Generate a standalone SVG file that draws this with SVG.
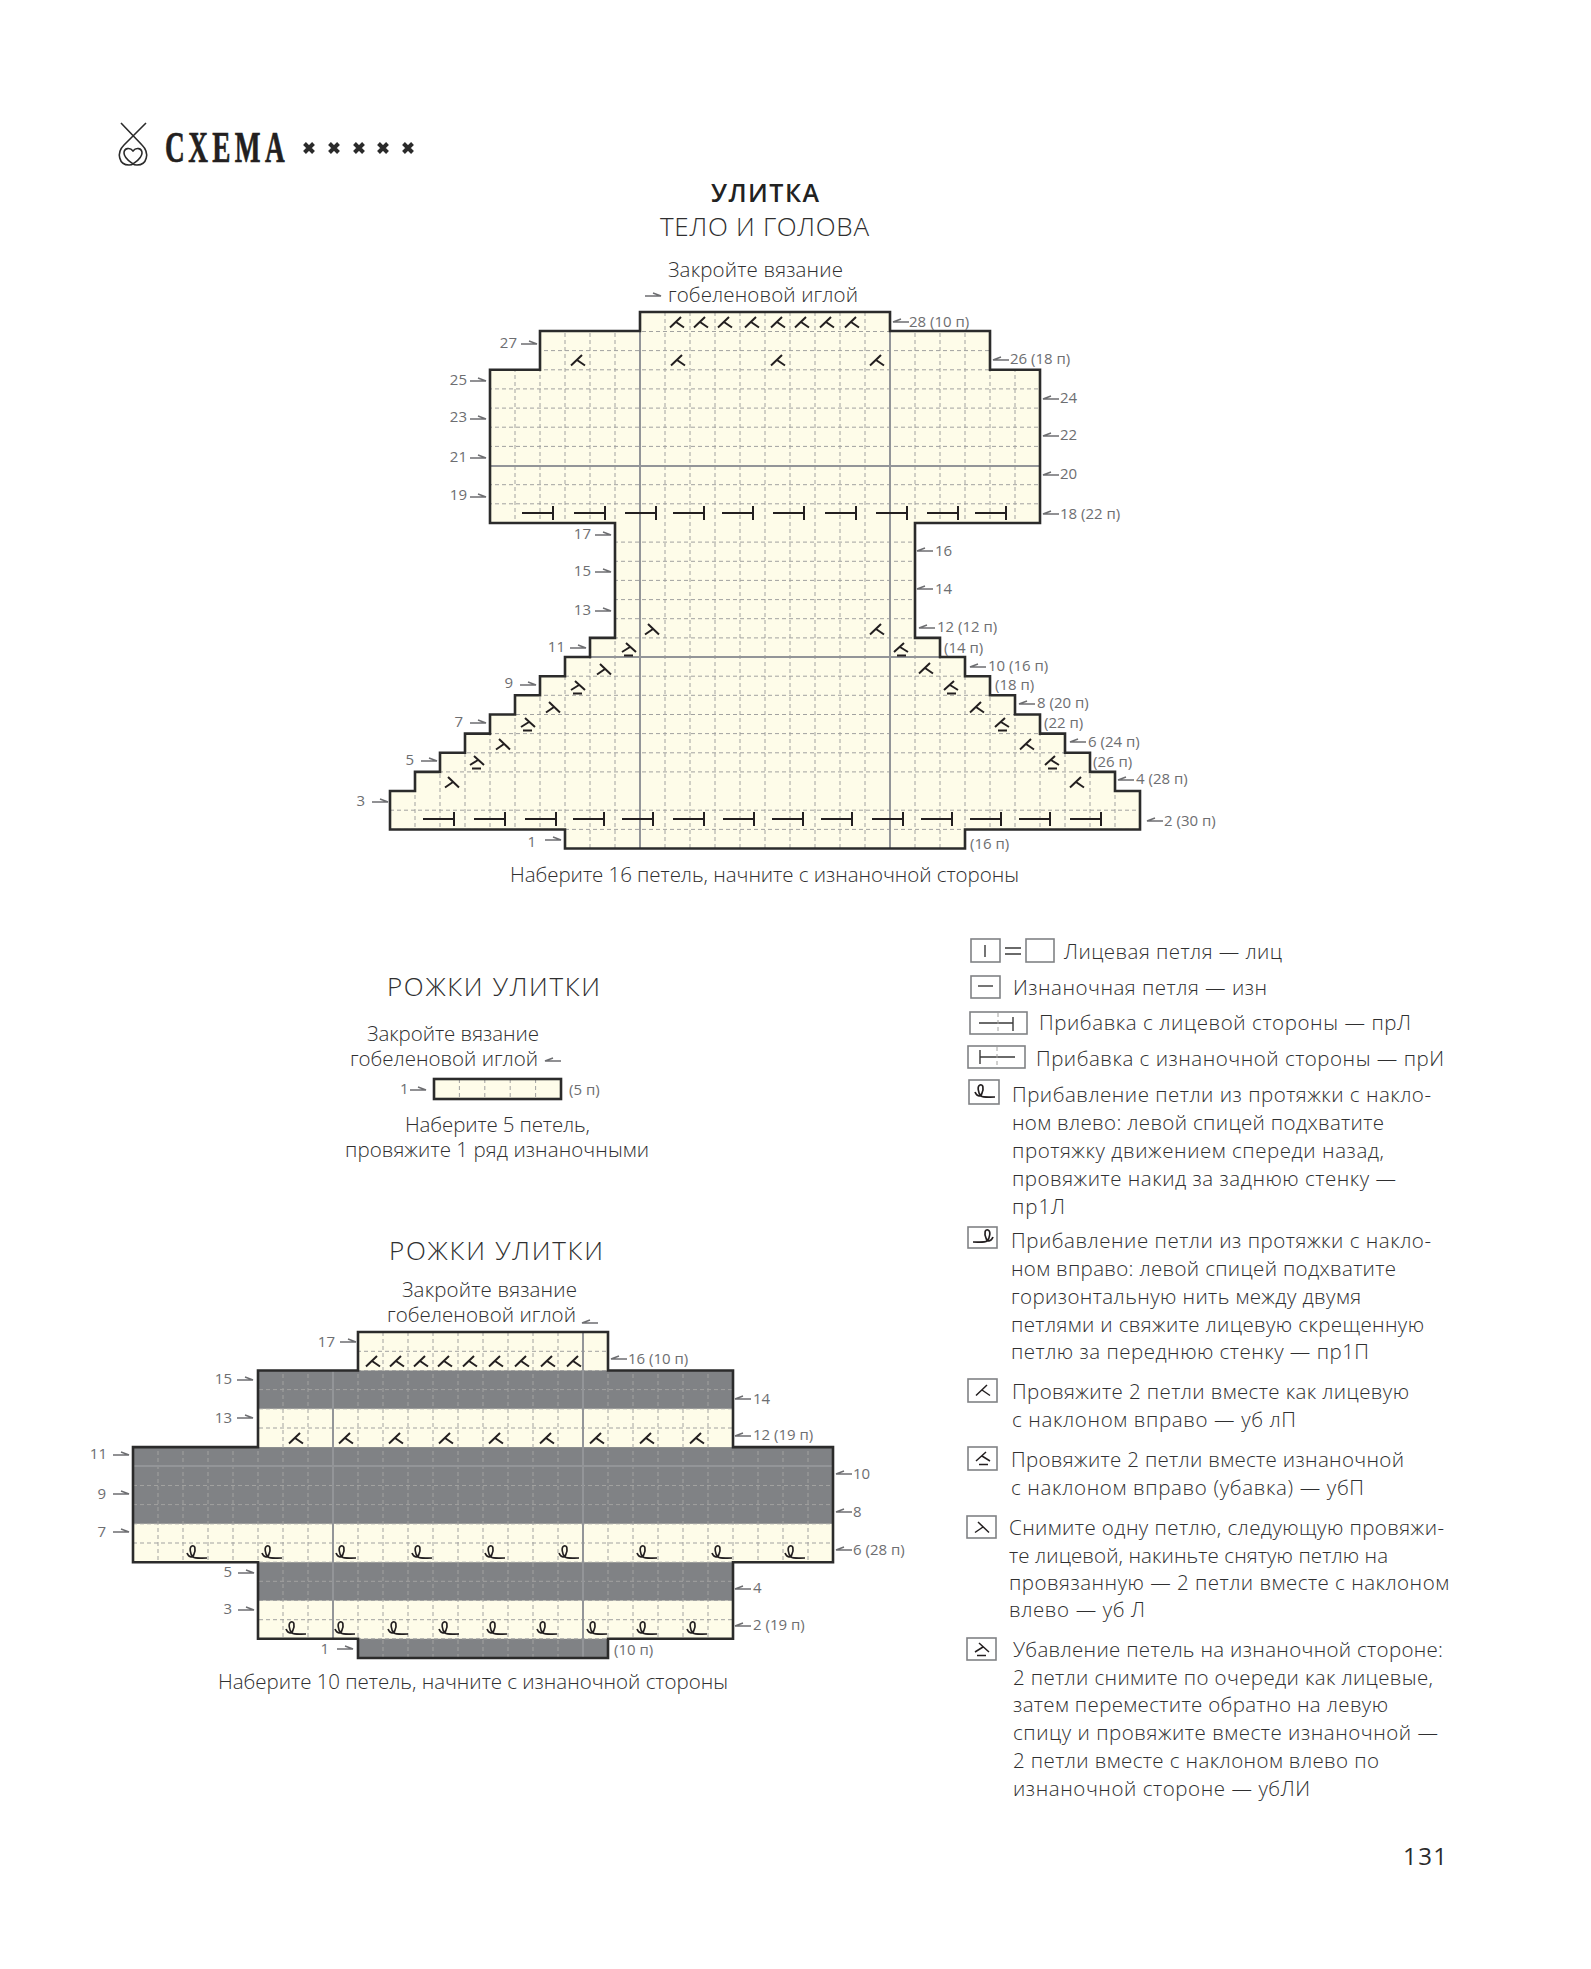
<svg xmlns="http://www.w3.org/2000/svg" width="1591" height="1969" viewBox="0 0 1591 1969">
<style>
text{font-family:"Open Sans","Liberation Sans",sans-serif;font-weight:300;fill:#2f2f30}
.t{font-size:20.5px}
.h{font-size:26px}
.b{font-size:25px;font-weight:600;fill:#222}
.n{font-size:15px;font-weight:400;fill:#6d6e71}
.cream{fill:#fefce9}
.dk{fill:#808285}
.grid{fill:none;stroke:#a2a2a0;stroke-width:1;stroke-dasharray:4 3}
.solid{fill:none;stroke:#939598;stroke-width:2}
.out{fill:none;stroke:#2b2b2b;stroke-width:2.6}
.sym{fill:none;stroke:#231f20}
use{stroke-width:2}
#legend use{stroke-width:1.5}
.arr{fill:none;stroke:#6d6e71;stroke-width:1.4}
.box{fill:#fff;stroke:#808285;stroke-width:1.6}
.lg{fill:none;stroke:#3a3a3a;stroke-width:1.4}
</style>
<defs>
<path id="k2" class="sym" d="M-7 5.5L4-5M-1 0L7 5.5"/>
<path id="s2" class="sym" d="M7 5.5L-4-5M1 0L-7 5.5"/>
<path id="pk" class="sym" d="M-7 3L3-6M-1-2L7 3M-4 6.5H5"/>
<path id="ps" class="sym" d="M7 3L-3-6M1-2L-7 3M4 6.5H-5"/>
<path id="inc" class="sym" d="M-31 0H0M0-7V7"/>
<path id="lp" class="sym" stroke-width="1.7" d="M-10 1C-8 6-4 6-3 2C-1-3-2-7-5-6C-8-5-7 2-4 5C-2 6.5 2 6 10 6"/>
<path id="ar" class="arr" d="M0 0H16L8-3"/>
<path id="al" class="arr" d="M16 0H0L8-3"/>
<path id="st" fill="none" stroke="#2b2b2b" stroke-width="4" d="M-4.5-4.5L4.5 4.5M4.5-4.5L-4.5 4.5"/>
<clipPath id="c1"><path d="M640 312H890V331H990V369.8H1040V523H915V637.9H940V657H965V676.2H990V695.3H1015V714.5H1040V733.6H1065V752.8H1090V771.9H1115V791H1140V829.5H965V848.5H565V829.5H390V791H415V771.9H440V752.8H465V733.6H490V714.5H515V695.3H540V676.2H565V657H590V637.9H615V523H490V369.8H540V331H640Z"/></clipPath>
<clipPath id="c3"><path d="M358 1332H608V1370.5H733V1447.1H833V1562.2H733V1638.8H608V1658H358V1638.8H258V1562.2H133V1447.1H258V1370.5H358Z"/></clipPath>
</defs>
<rect width="1591" height="1969" fill="#fff"/>

<g id="header">
<path fill="none" stroke="#2b2b2b" stroke-width="1.6" d="M121 123L142 145C150 153 147 165 137 165C134 165 133 164 133 164M146 123L124 145C116 153 119 165 129 165C132 165 133 164 133 164M133 151C130 147 124 148 124 153C124 158 129 161 133 164C137 161 142 158 142 153C142 148 136 147 133 151Z"/>
<text transform="translate(165 162) scale(.62 1)" x="0" y="0" textLength="193" style="font-family:'Liberation Serif',serif;font-weight:700;font-size:44px;fill:#231f20;stroke:#231f20;stroke-width:.7">СХЕМА</text>
<use href="#st" x="309" y="148"/><use href="#st" x="334" y="148"/><use href="#st" x="359" y="148"/><use href="#st" x="383" y="148"/><use href="#st" x="408" y="148"/>
</g>

<g id="title1">
<text class="b" x="711" y="202" textLength="108">УЛИТКА</text>
<text class="h" x="660" y="236" textLength="209">ТЕЛО И ГОЛОВА</text>
<text class="t" x="668" y="277" textLength="175">Закройте вязание</text>
<text class="t" x="668" y="302" textLength="190">гобеленовой иглой</text>
<text class="t" x="510" y="882" textLength="509">Наберите 16 петель, начните с изнаночной стороны</text>
</g>

<g id="chart-body">
<g clip-path="url(#c1)">
<rect x="390" y="312" width="750" height="537" class="cream"/>
<path class="grid" d="M415 312V849M440 312V849M465 312V849M490 312V849M515 312V849M540 312V849M565 312V849M590 312V849M615 312V849M640 312V849M665 312V849M690 312V849M715 312V849M740 312V849M765 312V849M790 312V849M815 312V849M840 312V849M865 312V849M890 312V849M915 312V849M940 312V849M965 312V849M990 312V849M1015 312V849M1040 312V849M1065 312V849M1090 312V849M1115 312V849"/>
<path class="grid" d="M390 829.4H1140M390 810.2H1140M390 771.9H1140M390 752.8H1140M390 733.6H1140M390 714.5H1140M390 695.3H1140M390 676.2H1140M390 637.9H1140M390 618.7H1140M390 599.6H1140M390 580.4H1140M390 561.3H1140M390 542.1H1140M390 503.8H1140M390 484.7H1140M390 446.4H1140M390 427.2H1140M390 408.1H1140M390 388.9H1140M390 369.8H1140M390 350.6H1140M390 331.5H1140"/>
<path class="solid" d="M640 312V849M890 312V849M390 466H1140M390 657H1140"/>
</g>
<path class="out" d="M640 312H890V331H990V369.8H1040V523H915V637.9H940V657H965V676.2H990V695.3H1015V714.5H1040V733.6H1065V752.8H1090V771.9H1115V791H1140V829.5H965V848.5H565V829.5H390V791H415V771.9H440V752.8H465V733.6H490V714.5H515V695.3H540V676.2H565V657H590V637.9H615V523H490V369.8H540V331H640Z"/>
<use href="#k2" x="677" y="322"/><use href="#k2" x="701" y="322"/><use href="#k2" x="725" y="322"/><use href="#k2" x="752" y="322"/><use href="#k2" x="778" y="322"/><use href="#k2" x="802" y="322"/><use href="#k2" x="827" y="322"/><use href="#k2" x="852" y="322"/>
<use href="#k2" x="578" y="360"/><use href="#k2" x="678" y="360"/><use href="#k2" x="778" y="360"/><use href="#k2" x="877" y="360"/>
<use href="#inc" x="553" y="513"/><use href="#inc" x="605" y="513"/><use href="#inc" x="656" y="513"/><use href="#inc" x="704" y="513"/><use href="#inc" x="753" y="513"/><use href="#inc" x="804" y="513"/><use href="#inc" x="856" y="513"/><use href="#inc" x="907" y="513"/><use href="#inc" x="958" y="513"/><use href="#inc" x="1006" y="513"/>
<use href="#s2" x="652" y="629"/><use href="#ps" x="629" y="649"/><use href="#s2" x="604" y="669"/><use href="#ps" x="578" y="687"/><use href="#s2" x="553" y="707"/><use href="#ps" x="528" y="724"/><use href="#s2" x="503" y="744"/><use href="#ps" x="477" y="762"/><use href="#s2" x="452" y="782"/>
<use href="#k2" x="877" y="629"/><use href="#pk" x="901" y="649"/><use href="#k2" x="926" y="668"/><use href="#pk" x="951" y="687"/><use href="#k2" x="977" y="707"/><use href="#pk" x="1002" y="724"/><use href="#k2" x="1027" y="744"/><use href="#pk" x="1052" y="762"/><use href="#k2" x="1077" y="782"/>
<use href="#inc" x="454" y="819"/><use href="#inc" x="505" y="819"/><use href="#inc" x="556" y="819"/><use href="#inc" x="604" y="819"/><use href="#inc" x="653" y="819"/><use href="#inc" x="704" y="819"/><use href="#inc" x="754" y="819"/><use href="#inc" x="803" y="819"/><use href="#inc" x="852" y="819"/><use href="#inc" x="903" y="819"/><use href="#inc" x="952" y="819"/><use href="#inc" x="1001" y="819"/><use href="#inc" x="1050" y="819"/><use href="#inc" x="1101" y="819"/>
<g id="labels-body">
<text class="n" x="517" y="348" text-anchor="end">27</text><text class="n" x="467" y="385" text-anchor="end">25</text><text class="n" x="467" y="422" text-anchor="end">23</text><text class="n" x="467" y="462" text-anchor="end">21</text><text class="n" x="467" y="500" text-anchor="end">19</text><text class="n" x="591" y="539" text-anchor="end">17</text><text class="n" x="591" y="576" text-anchor="end">15</text><text class="n" x="591" y="615" text-anchor="end">13</text><text class="n" x="565" y="652" text-anchor="end">11</text><text class="n" x="513" y="688" text-anchor="end">9</text><text class="n" x="463" y="727" text-anchor="end">7</text><text class="n" x="414" y="765" text-anchor="end">5</text><text class="n" x="365" y="806" text-anchor="end">3</text><text class="n" x="536" y="847" text-anchor="end">1</text>
<text class="n" x="909" y="327">28 (10 п)</text><text class="n" x="1010" y="364">26 (18 п)</text><text class="n" x="1060" y="403">24</text><text class="n" x="1060" y="440">22</text><text class="n" x="1060" y="479">20</text><text class="n" x="1060" y="519">18 (22 п)</text><text class="n" x="935" y="556">16</text><text class="n" x="935" y="594">14</text><text class="n" x="937" y="632">12 (12 п)</text><text class="n" x="944" y="653">(14 п)</text><text class="n" x="988" y="671">10 (16 п)</text><text class="n" x="995" y="690">(18 п)</text><text class="n" x="1037" y="708">8 (20 п)</text><text class="n" x="1044" y="728">(22 п)</text><text class="n" x="1088" y="747">6 (24 п)</text><text class="n" x="1093" y="767">(26 п)</text><text class="n" x="1136" y="784">4 (28 п)</text><text class="n" x="1164" y="826">2 (30 п)</text><text class="n" x="970" y="849">(16 п)</text>
</g>
</g>

<g id="title2">
<text class="h" x="387" y="996" textLength="213">РОЖКИ УЛИТКИ</text>
<text class="t" x="367" y="1041" textLength="172">Закройте вязание</text>
<text class="t" x="350" y="1066" textLength="188">гобеленовой иглой</text>
</g>
<g id="chart-small">
<rect x="434" y="1079" width="127" height="20" class="cream"/>
<path class="grid" d="M459.4 1079V1099M484.8 1079V1099M510.2 1079V1099M535.6 1079V1099"/>
<rect x="434" y="1079" width="127" height="20" class="out"/>
<text class="n" x="400" y="1094">1</text><text class="n" x="569" y="1095">(5 п)</text>
<text class="t" x="405" y="1132" textLength="185">Наберите 5 петель,</text>
<text class="t" x="345" y="1157" textLength="304">провяжите 1 ряд изнаночными</text>
</g>

<g id="title3">
<text class="h" x="389" y="1260" textLength="214">РОЖКИ УЛИТКИ</text>
<text class="t" x="402" y="1297" textLength="175">Закройте вязание</text>
<text class="t" x="387" y="1322" textLength="189">гобеленовой иглой</text>
<text class="t" x="218" y="1689" textLength="510">Наберите 10 петель, начните с изнаночной стороны</text>
</g>
<g id="chart-horns">
<g clip-path="url(#c3)">
<rect x="133" y="1332" width="700" height="326" class="cream"/>
<rect x="133" y="1638.8" width="700" height="19.2" class="dk"/>
<rect x="133" y="1562.2" width="700" height="38.3" class="dk"/>
<rect x="133" y="1447.1" width="700" height="76.7" class="dk"/>
<rect x="133" y="1370.5" width="700" height="38.3" class="dk"/>
<path class="grid" d="M158 1332V1658M183 1332V1658M208 1332V1658M233 1332V1658M258 1332V1658M283 1332V1658M308 1332V1658M333 1332V1658M358 1332V1658M383 1332V1658M408 1332V1658M433 1332V1658M458 1332V1658M483 1332V1658M508 1332V1658M533 1332V1658M558 1332V1658M583 1332V1658M608 1332V1658M633 1332V1658M658 1332V1658M683 1332V1658M708 1332V1658M733 1332V1658M758 1332V1658M783 1332V1658M808 1332V1658"/>
<path class="grid" d="M133 1638.8H833M133 1619.7H833M133 1600.5H833M133 1581.3H833M133 1562.2H833M133 1543H833M133 1523.8H833M133 1504.6H833M133 1485.5H833M133 1428H833M133 1408.8H833M133 1389.6H833M133 1370.5H833M133 1351.3H833"/>
<path class="solid" d="M333 1332V1658M583 1332V1658M133 1466H833"/>
</g>
<path class="out" d="M358 1332H608V1370.5H733V1447.1H833V1562.2H733V1638.8H608V1658H358V1638.8H258V1562.2H133V1447.1H258V1370.5H358Z"/>
<use href="#k2" x="373" y="1361"/><use href="#k2" x="397" y="1361"/><use href="#k2" x="421" y="1361"/><use href="#k2" x="445" y="1361"/><use href="#k2" x="470" y="1361"/><use href="#k2" x="496" y="1361"/><use href="#k2" x="522" y="1361"/><use href="#k2" x="548" y="1361"/><use href="#k2" x="574" y="1361"/>
<use href="#k2" x="296" y="1438"/><use href="#k2" x="346" y="1438"/><use href="#k2" x="396" y="1438"/><use href="#k2" x="446" y="1438"/><use href="#k2" x="496" y="1438"/><use href="#k2" x="547" y="1438"/><use href="#k2" x="597" y="1438"/><use href="#k2" x="647" y="1438"/><use href="#k2" x="697" y="1438"/>
<use href="#lp" x="197" y="1552"/><use href="#lp" x="272" y="1552"/><use href="#lp" x="346" y="1552"/><use href="#lp" x="422" y="1552"/><use href="#lp" x="495" y="1552"/><use href="#lp" x="569" y="1552"/><use href="#lp" x="647" y="1552"/><use href="#lp" x="722" y="1552"/><use href="#lp" x="795" y="1552"/>
<use href="#lp" x="296" y="1628"/><use href="#lp" x="345" y="1628"/><use href="#lp" x="398" y="1628"/><use href="#lp" x="449" y="1628"/><use href="#lp" x="497" y="1628"/><use href="#lp" x="547" y="1628"/><use href="#lp" x="597" y="1628"/><use href="#lp" x="647" y="1628"/><use href="#lp" x="697" y="1628"/>
<g id="labels-horns">
<text class="n" x="335" y="1347" text-anchor="end">17</text><text class="n" x="232" y="1384" text-anchor="end">15</text><text class="n" x="232" y="1423" text-anchor="end">13</text><text class="n" x="107" y="1459" text-anchor="end">11</text><text class="n" x="106" y="1499" text-anchor="end">9</text><text class="n" x="106" y="1537" text-anchor="end">7</text><text class="n" x="232" y="1577" text-anchor="end">5</text><text class="n" x="232" y="1614" text-anchor="end">3</text><text class="n" x="329" y="1654" text-anchor="end">1</text>
<text class="n" x="628" y="1364">16 (10 п)</text><text class="n" x="753" y="1404">14</text><text class="n" x="753" y="1440">12 (19 п)</text><text class="n" x="853" y="1479">10</text><text class="n" x="853" y="1517">8</text><text class="n" x="853" y="1555">6 (28 п)</text><text class="n" x="753" y="1593">4</text><text class="n" x="753" y="1630">2 (19 п)</text><text class="n" x="614" y="1655">(10 п)</text>
</g>
</g>

<g id="connectors">
<use href="#ar" x="645" y="296"/>
<use href="#ar" x="521" y="344"/><use href="#ar" x="470" y="381"/><use href="#ar" x="470" y="419"/><use href="#ar" x="470" y="458"/><use href="#ar" x="470" y="497"/><use href="#ar" x="595" y="535"/><use href="#ar" x="595" y="572"/><use href="#ar" x="595" y="611"/><use href="#ar" x="570" y="648"/><use href="#ar" x="520" y="685"/><use href="#ar" x="470" y="723"/><use href="#ar" x="421" y="761"/><use href="#ar" x="372" y="802"/><use href="#ar" x="545" y="840"/>
<use href="#al" x="893" y="322"/><use href="#al" x="993" y="360"/><use href="#al" x="1043" y="399"/><use href="#al" x="1043" y="436"/><use href="#al" x="1043" y="475"/><use href="#al" x="1043" y="514"/><use href="#al" x="917" y="551"/><use href="#al" x="917" y="589"/><use href="#al" x="919" y="628"/><use href="#al" x="970" y="667"/><use href="#al" x="1019" y="704"/><use href="#al" x="1070" y="742"/><use href="#al" x="1118" y="780"/><use href="#al" x="1147" y="821"/>
<use href="#al" x="545" y="1061"/><use href="#ar" x="410" y="1090"/>
<use href="#al" x="582" y="1323"/>
<use href="#ar" x="340" y="1342"/><use href="#ar" x="237" y="1380"/><use href="#ar" x="237" y="1418"/><use href="#ar" x="113" y="1455"/><use href="#ar" x="113" y="1494"/><use href="#ar" x="113" y="1532"/><use href="#ar" x="238" y="1573"/><use href="#ar" x="238" y="1610"/><use href="#ar" x="337" y="1649"/>
<use href="#al" x="611" y="1359"/><use href="#al" x="735" y="1399"/><use href="#al" x="735" y="1436"/><use href="#al" x="836" y="1474"/><use href="#al" x="836" y="1512"/><use href="#al" x="836" y="1550"/><use href="#al" x="735" y="1589"/><use href="#al" x="735" y="1626"/>
</g>

<g id="legend">
<g id="lg-knit">
<rect class="box" x="971" y="939" width="29" height="23"/><path class="lg" d="M985 945V957M1005 948H1021M1005 954H1021"/><rect class="box" x="1026" y="939" width="28" height="23"/>
<text class="t" x="1064" y="959" textLength="218">Лицевая петля — лиц</text>
</g>
<g id="lg-purl">
<rect class="box" x="971" y="976" width="29" height="22"/><path class="lg" d="M978 986H993"/>
<text class="t" x="1013" y="995" textLength="254">Изнаночная петля — изн</text>
</g>
<g id="lg-incr">
<rect class="box" x="970" y="1012" width="57" height="22"/><path class="lg" d="M979 1023H1013M1013 1017V1031"/><path class="grid" d="M998 1013V1033"/>
<text class="t" x="1039" y="1030" textLength="372">Прибавка с лицевой стороны — прЛ</text>
</g>
<g id="lg-inci">
<rect class="box" x="968" y="1046" width="57" height="22"/><path class="lg" d="M980 1057H1015M980 1050V1064"/><path class="grid" d="M997 1047V1067"/>
<text class="t" x="1036" y="1066" textLength="408">Прибавка с изнаночной стороны — прИ</text>
</g>
<g id="lg-m1l">
<rect class="box" x="969" y="1080" width="30" height="24"/><use href="#lp" x="985" y="1091"/>
<text class="t" x="1012" y="1102" textLength="419">Прибавление петли из протяжки с накло-</text>
<text class="t" x="1012" y="1130" textLength="372">ном влево: левой спицей подхватите</text>
<text class="t" x="1012" y="1158" textLength="372">протяжку движением спереди назад,</text>
<text class="t" x="1012" y="1186" textLength="384">провяжите накид за заднюю стенку —</text>
<text class="t" x="1012" y="1214" textLength="53">пр1Л</text>
</g>
<g id="lg-m1r">
<rect class="box" x="968" y="1227" width="29" height="21"/><use href="#lp" transform="translate(983 1236) scale(-1 1)"/>
<text class="t" x="1011" y="1248" textLength="420">Прибавление петли из протяжки с накло-</text>
<text class="t" x="1011" y="1276" textLength="385">ном вправо: левой спицей подхватите</text>
<text class="t" x="1011" y="1304" textLength="350">горизонтальную нить между двумя</text>
<text class="t" x="1011" y="1332" textLength="413">петлями и свяжите лицевую скрещенную</text>
<text class="t" x="1011" y="1359" textLength="358">петлю за переднюю стенку — пр1П</text>
</g>
<g id="lg-k2tog">
<rect class="box" x="968" y="1379" width="29" height="23"/><use href="#k2" x="983" y="1390"/>
<text class="t" x="1012" y="1399" textLength="397">Провяжите 2 петли вместе как лицевую</text>
<text class="t" x="1012" y="1427" textLength="284">с наклоном вправо — уб лП</text>
</g>
<g id="lg-p2tog">
<rect class="box" x="968" y="1447" width="29" height="23"/><use href="#pk" x="983" y="1458"/>
<text class="t" x="1011" y="1467" textLength="393">Провяжите 2 петли вместе изнаночной</text>
<text class="t" x="1011" y="1495" textLength="353">с наклоном вправо (убавка) — убП</text>
</g>
<g id="lg-ssk">
<rect class="box" x="967" y="1516" width="29" height="22"/><use href="#s2" x="982" y="1527"/>
<text class="t" x="1009" y="1535" textLength="435">Снимите одну петлю, следующую провяжи-</text>
<text class="t" x="1009" y="1563" textLength="379">те лицевой, накиньте снятую петлю на</text>
<text class="t" x="1009" y="1590" textLength="440">провязанную — 2 петли вместе с наклоном</text>
<text class="t" x="1009" y="1617" textLength="136">влево — уб Л</text>
</g>
<g id="lg-ssp">
<rect class="box" x="967" y="1638" width="29" height="22"/><use href="#ps" x="982" y="1649"/>
<text class="t" x="1013" y="1657" textLength="430">Убавление петель на изнаночной стороне:</text>
<text class="t" x="1013" y="1685" textLength="420">2 петли снимите по очереди как лицевые,</text>
<text class="t" x="1013" y="1712" textLength="375">затем переместите обратно на левую</text>
<text class="t" x="1013" y="1740" textLength="425">спицу и провяжите вместе изнаночной —</text>
<text class="t" x="1013" y="1768" textLength="366">2 петли вместе с наклоном влево по</text>
<text class="t" x="1013" y="1796" textLength="297">изнаночной стороне — убЛИ</text>
</g>
</g>

<text x="1403" y="1865" textLength="44" style="font-size:24px;font-weight:400;fill:#2b2b2b">131</text>
</svg>
